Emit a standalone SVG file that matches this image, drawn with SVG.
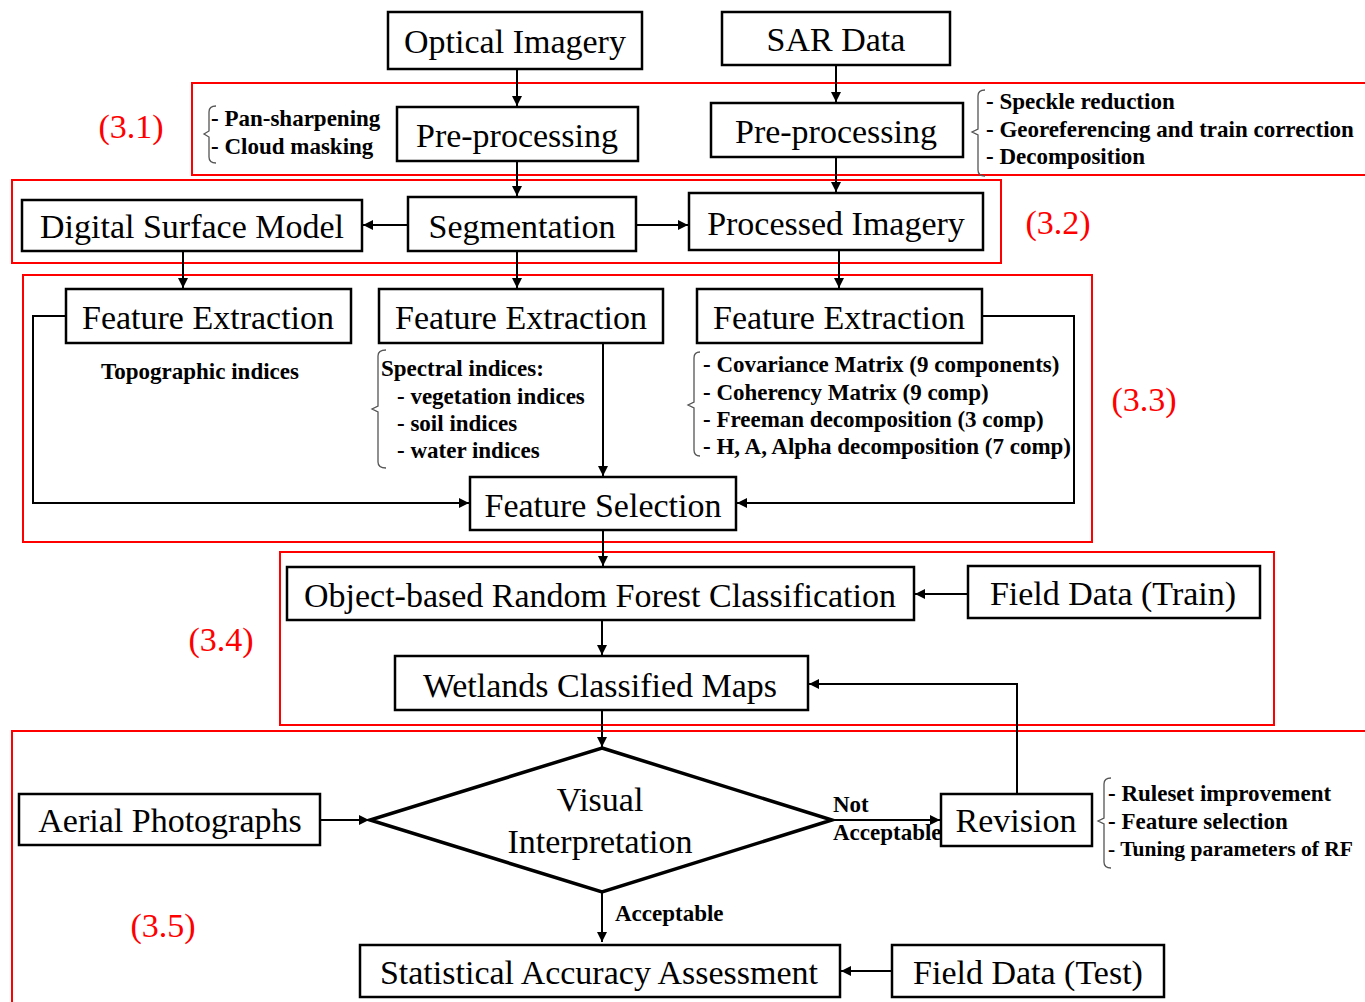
<svg xmlns="http://www.w3.org/2000/svg" width="1365" height="1002" viewBox="0 0 1365 1002">
<defs>
<marker id="ah" viewBox="0 0 10 10" refX="10" refY="5" markerWidth="11" markerHeight="10" markerUnits="userSpaceOnUse" orient="auto">
<path d="M0,0 L10,5 L0,10 z" fill="#000"/>
</marker>
<style>
.box{fill:#fff;stroke:#000;stroke-width:2.5}
.region{fill:none;stroke:#f00;stroke-width:2}
.t{font-family:"Liberation Serif","Times New Roman",serif;font-size:34px;fill:#000;text-anchor:middle}
.b{font-family:"Liberation Serif","Times New Roman",serif;font-size:23px;font-weight:bold;fill:#000}
.r{font-family:"Liberation Serif","Times New Roman",serif;font-size:34px;fill:#f00;text-anchor:middle}
.c{fill:none;stroke:#000;stroke-width:2}
.br{fill:none;stroke:#555;stroke-width:1.3}
</style>
</defs>
<rect width="1365" height="1002" fill="#fff"/>

<g id="regions">
<rect class="region" x="192" y="83" width="1180" height="92"/>
<rect class="region" x="12" y="180" width="989" height="83"/>
<rect class="region" x="23" y="275" width="1069" height="267"/>
<rect class="region" x="280" y="552" width="994" height="173"/>
<rect class="region" x="12" y="731" width="1360" height="290"/>
<text class="r" x="131" y="138">(3.1)</text>
<text class="r" x="1058" y="234">(3.2)</text>
<text class="r" x="1144" y="411">(3.3)</text>
<text class="r" x="221" y="651">(3.4)</text>
<text class="r" x="163" y="937">(3.5)</text>
</g>

<g id="connectors">
<line class="c" x1="517" y1="69" x2="517" y2="106" marker-end="url(#ah)"/>
<line class="c" x1="836" y1="65" x2="836" y2="102" marker-end="url(#ah)"/>
<line class="c" x1="517" y1="161" x2="517" y2="196" marker-end="url(#ah)"/>
<line class="c" x1="836" y1="157" x2="836" y2="192" marker-end="url(#ah)"/>
<line class="c" x1="408" y1="225" x2="363" y2="225" marker-end="url(#ah)"/>
<line class="c" x1="636" y1="225" x2="688" y2="225" marker-end="url(#ah)"/>
<line class="c" x1="183" y1="251" x2="183" y2="288" marker-end="url(#ah)"/>
<line class="c" x1="517" y1="251" x2="517" y2="288" marker-end="url(#ah)"/>
<line class="c" x1="839" y1="250" x2="839" y2="288" marker-end="url(#ah)"/>
<polyline class="c" points="66,316 33,316 33,503 469,503" marker-end="url(#ah)"/>
<line class="c" x1="603" y1="343" x2="603" y2="476" marker-end="url(#ah)"/>
<polyline class="c" points="982,316 1074,316 1074,503 737,503" marker-end="url(#ah)"/>
<line class="c" x1="603" y1="530" x2="603" y2="566" marker-end="url(#ah)"/>
<line class="c" x1="968" y1="594" x2="915" y2="594" marker-end="url(#ah)"/>
<line class="c" x1="602" y1="620" x2="602" y2="655" marker-end="url(#ah)"/>
<polyline class="c" points="1017,793 1017,684 809,684" marker-end="url(#ah)"/>
<line class="c" x1="602" y1="710" x2="602" y2="747" marker-end="url(#ah)"/>
<line class="c" x1="320" y1="820" x2="369" y2="820" marker-end="url(#ah)"/>
<line class="c" x1="832" y1="820" x2="940" y2="820" marker-end="url(#ah)"/>
<line class="c" x1="602" y1="892" x2="602" y2="942" marker-end="url(#ah)"/>
<line class="c" x1="892" y1="971" x2="841" y2="971" marker-end="url(#ah)"/>
<text class="b" x="833" y="812">Not</text>
<text class="b" x="833" y="840">Acceptable</text>
<text class="b" x="615" y="921">Acceptable</text>
</g>

<g id="optical">
<rect class="box" x="388" y="12" width="254" height="57"/>
<text class="t" x="515" y="53">Optical Imagery</text>
</g>
<g id="sar">
<rect class="box" x="722" y="12" width="228" height="53"/>
<text class="t" x="836" y="51">SAR Data</text>
</g>

<g id="preproc-optical">
<rect class="box" x="397" y="107" width="241" height="54"/>
<text class="t" x="517" y="147">Pre-processing</text>
<path class="br" d="M216,106 Q209,106 209,112 L209,131 L204,134 L209,137 L209,157 Q209,163 216,163"/>
<text class="b" x="211" y="126">- Pan-sharpening</text>
<text class="b" x="211" y="154">- Cloud masking</text>
</g>

<g id="preproc-sar">
<rect class="box" x="711" y="103" width="252" height="54"/>
<text class="t" x="836" y="143">Pre-processing</text>
<path class="br" d="M985,90 Q978,90 978,96 L978,129 L972,132 L978,135 L978,170 Q978,176 985,176"/>
<text class="b" x="986" y="109">- Speckle reduction</text>
<text class="b" x="986" y="137">- Georeferencing and train correction</text>
<text class="b" x="986" y="164">- Decomposition</text>
</g>

<g id="dsm">
<rect class="box" x="22" y="200" width="340" height="51"/>
<text class="t" x="192" y="238">Digital Surface Model</text>
</g>
<g id="segmentation">
<rect class="box" x="408" y="197" width="228" height="54"/>
<text class="t" x="522" y="238">Segmentation</text>
</g>
<g id="processed">
<rect class="box" x="689" y="193" width="294" height="57"/>
<text class="t" x="836" y="235">Processed Imagery</text>
</g>

<g id="fe-topo">
<rect class="box" x="66" y="289" width="285" height="54"/>
<text class="t" x="208" y="329">Feature Extraction</text>
<text class="b" x="200" y="379" text-anchor="middle">Topographic indices</text>
</g>
<g id="fe-spectral">
<rect class="box" x="379" y="289" width="284" height="54"/>
<text class="t" x="521" y="329">Feature Extraction</text>
<path class="br" d="M386,350 Q378,350 378,356 L378,406 L372,409 L378,412 L378,462 Q378,468 386,468"/>
<text class="b" x="381" y="376">Spectral indices:</text>
<text class="b" x="397" y="404">- vegetation indices</text>
<text class="b" x="397" y="431">- soil indices</text>
<text class="b" x="397" y="458">- water indices</text>
</g>
<g id="fe-sar">
<rect class="box" x="697" y="289" width="285" height="54"/>
<text class="t" x="839" y="329">Feature Extraction</text>
<path class="br" d="M700,352 Q694,352 694,358 L694,402 L688,405 L694,408 L694,450 Q694,456 700,456"/>
<text class="b" x="703" y="372">- Covariance Matrix (9 components)</text>
<text class="b" x="703" y="400">- Coherency Matrix (9 comp)</text>
<text class="b" x="703" y="427">- Freeman  decomposition (3 comp)</text>
<text class="b" x="703" y="454">- H, A, Alpha decomposition (7 comp)</text>
</g>

<g id="feature-selection">
<rect class="box" x="470" y="477" width="266" height="53"/>
<text class="t" x="603" y="517">Feature Selection</text>
</g>

<g id="rf-classification">
<rect class="box" x="287" y="567" width="627" height="53"/>
<text class="t" x="600" y="607">Object-based Random Forest Classification</text>
</g>
<g id="field-train">
<rect class="box" x="968" y="566" width="292" height="52"/>
<text class="t" x="1113" y="605">Field Data (Train)</text>
</g>
<g id="wetlands-maps">
<rect class="box" x="395" y="656" width="413" height="54"/>
<text class="t" x="600" y="697">Wetlands Classified Maps</text>
</g>

<g id="visual-interpretation">
<polygon points="602,748 832,820 602,892 370,820" fill="#fff" stroke="#000" stroke-width="3.5" stroke-linejoin="miter"/>
<text class="t" x="600" y="811">Visual</text>
<text class="t" x="600" y="853">Interpretation</text>
</g>
<g id="aerial">
<rect class="box" x="19" y="794" width="301" height="51"/>
<text class="t" x="170" y="832">Aerial Photographs</text>
</g>
<g id="revision">
<rect class="box" x="941" y="794" width="151" height="52"/>
<text class="t" x="1016" y="832">Revision</text>
<path class="br" d="M1111,778 Q1104,778 1104,784 L1104,818 L1098,821 L1104,824 L1104,862 Q1104,868 1111,868"/>
<text class="b" x="1108" y="801">- Ruleset improvement</text>
<text class="b" x="1108" y="829">- Feature selection</text>
<text class="b" x="1108" y="856" style="font-size:21.5px">- Tuning parameters of RF</text>
</g>
<g id="accuracy">
<rect class="box" x="360" y="945" width="480" height="52"/>
<text class="t" x="599" y="984">Statistical Accuracy Assessment</text>
</g>
<g id="field-test">
<rect class="box" x="892" y="945" width="272" height="52"/>
<text class="t" x="1028" y="984">Field Data (Test)</text>
</g>
</svg>
